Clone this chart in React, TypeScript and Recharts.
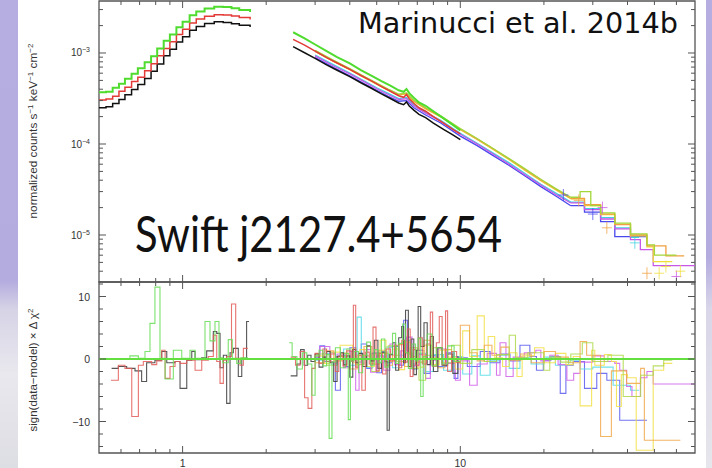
import React from 'react';
import { ComposedChart, Line, Scatter, XAxis, YAxis, ReferenceLine, ReferenceArea } from 'recharts';

// ---------------- axis ticks ----------------
const X_TICKS = [0.6, 0.7, 0.8, 0.9, 1, 2, 3, 4, 5, 6, 7, 8, 9, 10, 20, 30, 40, 50, 60];
const X_LABELS = [1, 10];
const SPEC_Y_TICKS = [4e-6, 5e-6, 6e-6, 7e-6, 8e-6, 9e-6, 1e-5, 2e-5, 3e-5, 4e-5, 5e-5, 6e-5, 7e-5, 8e-5, 9e-5,
  1e-4, 2e-4, 3e-4, 4e-4, 5e-4, 6e-4, 7e-4, 8e-4, 9e-4, 1e-3, 2e-3, 3e-3];
const SPEC_Y_LABELS = [1e-5, 1e-4, 1e-3];
const RES_Y_TICKS = [-14, -12, -10, -8, -6, -4, -2, 0, 2, 4, 6, 8, 10, 12];
const RES_Y_LABELS = [-10, 0, 10];
const X_DOMAIN = [0.5, 70];
const SPEC_DOMAIN = [3.045e-6, 3.727e-3];
const RES_DOMAIN = [-15.04, 12.32];

// ---------------- spectrum: soft band (keV, counts) ----------------
const LO_E = [0.50, 0.53, 0.56, 0.59, 0.62, 0.655, 0.69, 0.73, 0.77, 0.81, 0.855, 0.90, 0.95, 1.00, 1.06, 1.12, 1.20, 1.30, 1.40, 1.50, 1.60, 1.75];
const LO_BLACK = [2.51e-4, 2.57e-4, 2.79e-4, 3.09e-4, 3.47e-4, 3.98e-4, 4.52e-4, 5.25e-4, 6.31e-4, 7.59e-4, 9.33e-4, 1.10e-3, 1.32e-3, 1.51e-3, 1.78e-3, 1.95e-3, 2.11e-3, 2.20e-3, 2.17e-3, 2.10e-3, 2.02e-3, 1.93e-3];
const LO_RED = [3.05e-4, 3.12e-4, 3.35e-4, 3.8e-4, 4.2e-4, 4.85e-4, 5.4e-4, 6.4e-4, 7.6e-4, 9.3e-4, 1.12e-3, 1.33e-3, 1.6e-3, 1.82e-3, 2.13e-3, 2.36e-3, 2.53e-3, 2.64e-3, 2.62e-3, 2.55e-3, 2.45e-3, 2.33e-3];
const LO_GREEN = [3.7e-4, 3.75e-4, 4.15e-4, 4.6e-4, 5.2e-4, 5.9e-4, 6.8e-4, 7.9e-4, 9.2e-4, 1.12e-3, 1.36e-3, 1.6e-3, 1.92e-3, 2.2e-3, 2.6e-3, 2.85e-3, 3.08e-3, 3.22e-3, 3.2e-3, 3.1e-3, 2.97e-3, 2.82e-3];

// ---------------- spectrum: 2.5-10 keV ----------------
const HI_E = [2.5, 2.75, 3.0, 3.3, 3.6, 4.0, 4.4, 4.8, 5.2, 5.6, 6.0, 6.25, 6.4, 6.55, 6.8, 7.1, 7.5, 8.0, 8.7, 9.4, 10.0];
const HI_BLACK = [1.175e-3, 1.007e-3, 8.71e-4, 7.41e-4, 6.46e-4, 5.50e-4, 4.68e-4, 4.07e-4, 3.55e-4, 3.16e-4, 2.82e-4, 2.70e-4, 2.90e-4, 2.62e-4, 2.36e-4, 2.12e-4, 1.95e-4, 1.70e-4, 1.45e-4, 1.26e-4, 1.12e-4];
const HI_RED = [1.41e-3, 1.22e-3, 1.05e-3, 8.91e-4, 7.76e-4, 6.61e-4, 5.62e-4, 4.90e-4, 4.27e-4, 3.80e-4, 3.39e-4, 3.26e-4, 3.50e-4, 3.15e-4, 2.80e-4, 2.50e-4, 2.29e-4, 2.00e-4, 1.70e-4, 1.45e-4, 1.29e-4];
const HI_GREEN = [1.69e-3, 1.45e-3, 1.24e-3, 1.05e-3, 9.02e-4, 7.67e-4, 6.46e-4, 5.62e-4, 4.90e-4, 4.37e-4, 3.89e-4, 3.75e-4, 4.02e-4, 3.62e-4, 3.22e-4, 2.86e-4, 2.63e-4, 2.29e-4, 1.91e-4, 1.62e-4, 1.41e-4];

// ---------------- spectrum: hard band instruments ----------------
const BLUE_E = [3.0, 3.5, 4.0, 4.5, 5.0, 5.5, 6.0, 6.4, 6.8, 7.5, 8.5, 10, 11.5, 13, 15, 17, 19.5, 22, 25, 28, 32, 36, 47];
const BLUE_V = [8.9e-4, 6.9e-4, 5.6e-4, 4.6e-4, 3.9e-4, 3.35e-4, 2.95e-4, 3.0e-4, 2.5e-4, 2.08e-4, 1.70e-4, 1.22e-4, 9.6e-5, 7.6e-5, 5.8e-5, 4.5e-5, 3.4e-5, 2.7e-5, 2.1e-5, 1.78e-5, 1.4e-5, 9.6e-6, 9.6e-6];
const CYAN_E = [3.0, 3.5, 4.0, 4.5, 5.0, 5.5, 6.0, 6.4, 6.8, 7.5, 8.5, 10, 11.5, 13, 15, 17, 19.5, 22, 25, 28, 32, 36, 41, 44];
const CYAN_V = [9.5e-4, 7.4e-4, 6.0e-4, 4.95e-4, 4.15e-4, 3.6e-4, 3.15e-4, 3.25e-4, 2.7e-4, 2.22e-4, 1.82e-4, 1.31e-4, 1.02e-4, 8.1e-5, 6.2e-5, 4.8e-5, 3.6e-5, 2.9e-5, 2.3e-5, 1.95e-5, 1.55e-5, 1.2e-5, 9.4e-6, 9.4e-6];
const MAG_E = [3.0, 3.5, 4.0, 4.5, 5.0, 5.5, 6.0, 6.4, 6.8, 7.5, 8.5, 10, 11.5, 13, 15, 17, 19.5, 22, 25, 28, 32, 36, 41, 44.5, 49.5, 70];
const MAG_V = [9.3e-4, 7.2e-4, 5.9e-4, 4.85e-4, 4.05e-4, 3.5e-4, 3.08e-4, 3.15e-4, 2.62e-4, 2.18e-4, 1.78e-4, 1.28e-4, 1.0e-4, 7.9e-5, 6.0e-5, 4.65e-5, 3.55e-5, 2.8e-5, 2.25e-5, 1.9e-5, 1.5e-5, 1.17e-5, 8.9e-6, 6.9e-6, 4.6e-6, 4.6e-6];
const YEL_E = [3.0, 3.5, 4.0, 4.5, 5.0, 5.5, 6.0, 6.4, 6.8, 7.5, 8.5, 10, 11.5, 13, 15, 17, 19.5, 22, 25, 28, 32, 36, 41, 47, 49.5, 58];
const YEL_V = [1.04e-3, 8.1e-4, 6.55e-4, 5.4e-4, 4.55e-4, 3.9e-4, 3.45e-4, 3.55e-4, 2.93e-4, 2.43e-4, 1.99e-4, 1.44e-4, 1.12e-4, 8.9e-5, 6.7e-5, 5.2e-5, 3.95e-5, 3.15e-5, 2.5e-5, 2.1e-5, 1.68e-5, 1.31e-5, 9.8e-6, 7.4e-6, 5.1e-6, 5.1e-6];
const ORA_E = [3.0, 3.5, 4.0, 4.5, 5.0, 5.5, 6.0, 6.4, 6.8, 7.5, 8.5, 10, 11.5, 13, 15, 17, 19.5, 22, 25, 28, 32, 36, 41, 47, 55, 64];
const ORA_V = [1.05e-3, 8.15e-4, 6.6e-4, 5.45e-4, 4.6e-4, 3.95e-4, 3.48e-4, 3.6e-4, 2.96e-4, 2.46e-4, 2.0e-4, 1.45e-4, 1.13e-4, 9.0e-5, 6.8e-5, 5.3e-5, 4.0e-5, 3.2e-5, 2.52e-5, 2.15e-5, 1.7e-5, 1.3e-5, 1.0e-5, 7.6e-6, 5.9e-6, 5.9e-6];
const LIME_E = [3.0, 3.5, 4.0, 4.5, 5.0, 5.5, 6.0, 6.4, 6.8, 7.5, 8.5, 10, 11.5, 13, 15, 17, 19.5, 22, 25, 27, 29.5, 32, 36, 41, 47, 50, 60];
const LIME_V = [1.07e-3, 8.3e-4, 6.75e-4, 5.55e-4, 4.68e-4, 4.02e-4, 3.54e-4, 3.65e-4, 3.02e-4, 2.5e-4, 2.04e-4, 1.48e-4, 1.15e-4, 9.1e-5, 6.9e-5, 5.4e-5, 4.1e-5, 3.25e-5, 2.6e-5, 3.0e-5, 2.1e-5, 1.75e-5, 1.35e-5, 1.03e-5, 7.8e-6, 6.0e-6, 6.0e-6];

// ---------------- spectrum: a few data crosses at high energy ----------------
const PT_ORA_E = [26.7, 33.7, 47];
const PT_ORA_V = [2.4e-5, 1.2e-5, 3.8e-6];
const PT_YEL_E = [52, 55, 62];
const PT_YEL_V = [3.8e-6, 4.5e-6, 4.0e-6];
const PT_MAG_E = [32.5, 60];
const PT_MAG_V = [2.0e-5, 3.5e-6];
const PT_BLUE_E = [23.5, 30];
const PT_BLUE_V = [2.75e-5, 1.7e-5];
const PT_CYAN_E = [42.5];
const PT_CYAN_V = [8.2e-6];

// ---------------- residuals: soft band ----------------
const R_LO_BLACK_E = [0.555, 0.587, 0.629, 0.674, 0.712, 0.742, 0.795, 0.841, 0.877, 0.939, 0.979, 1.035, 1.079, 1.109, 1.172, 1.221, 1.29, 1.327, 1.364, 1.402, 1.441, 1.482, 1.523, 1.587, 1.633, 1.70, 1.735];
const R_LO_BLACK = [-1.5, -1.2, -1.5, -1.9, -3.6, -0.6, -0.2, 1.2, -0.6, -0.4, -4.7, -0.2, 1.2, -0.1, 0.2, 1.3, 4.4, 4.1, -1.4, 0.6, -7.1, 1.0, 1.7, -2.8, 0.1, 6.0, 6.0];
const R_LO_RED_E = [0.552, 0.587, 0.620, 0.656, 0.693, 0.722, 0.774, 0.807, 0.841, 0.865, 0.901, 0.939, 0.979, 1.035, 1.109, 1.172, 1.238, 1.29, 1.327, 1.364, 1.402, 1.441, 1.50, 1.553, 1.61, 1.655, 1.716];
const R_LO_RED = [-3.4, -1.0, -1.5, -9.2, -1.0, -0.4, -0.9, -0.3, 1.4, -3.1, -1.2, -0.4, -0.7, -0.2, -1.8, -0.2, 0.4, 3.8, -0.4, -3.9, -0.2, 0.4, 8.8, 0.1, -1.0, 1.7, 1.7];
const R_LO_GREEN_E = [0.5, 0.646, 0.693, 0.732, 0.763, 0.795, 0.829, 0.865, 0.926, 0.993, 1.063, 1.109, 1.204, 1.255, 1.308, 1.352, 1.395, 1.46, 1.51, 1.566, 1.62, 1.72];
const R_LO_GREEN = [0.0, 0.5, 0.1, 1.2, 5.7, 11.5, 0.1, -3.2, 1.4, 0.1, 1.4, 0.1, 6.0, 2.9, 6.0, 0.2, -0.6, 3.1, 0.1, -0.7, 0.2, 0.2];

// ---------------- residuals: hard band ----------------
const R_BLACK_E = [2.45, 2.58, 2.66, 2.74, 2.82, 2.9, 3.0, 3.1, 3.2, 3.3, 3.4, 3.5, 3.6, 3.7, 3.8, 3.9, 4.0, 4.1, 4.2, 4.3, 4.45, 4.6, 4.75, 4.9, 5.05, 5.2, 5.35, 5.45, 5.55, 5.7, 5.85, 6.0, 6.15, 6.25, 6.35, 6.5, 6.65, 6.8, 6.95, 7.05, 7.2, 7.4, 7.6, 7.8, 8.0, 8.3, 8.6, 9.0, 9.4, 9.8];
const R_BLACK = [-2.7, -0.8, 1.5, -1.0, 0.6, -0.4, 0.8, -1.3, 0.3, 1.2, -0.5, -3.6, 0.4, 1.0, -0.9, 0.5, -2.9, 1.5, -0.6, 0.9, -1.2, 2.1, -0.3, 3.0, -1.5, 1.1, -0.4, -11.4, 0.7, 2.6, -1.8, 3.4, 5.2, -0.6, 7.8, -1.2, 3.2, -2.5, 1.4, 8.4, 2.0, 5.8, -0.9, 3.6, -2.0, 1.8, -1.0, 0.8, -2.3, 0.5];
const R_RED_E = [2.45, 2.55, 2.65, 2.75, 2.83, 2.92, 3.0, 3.1, 3.2, 3.3, 3.42, 3.55, 3.65, 3.78, 3.9, 4.05, 4.12, 4.2, 4.3, 4.42, 4.55, 4.7, 4.85, 4.97, 5.1, 5.25, 5.4, 5.6, 5.8, 6.0, 6.15, 6.3, 6.45, 6.6, 6.75, 6.9, 7.1, 7.3, 7.55, 7.8, 7.95, 8.2, 8.4, 8.6, 8.85, 9.0, 9.3, 9.7, 10.0];
const R_RED = [0.3, -1.0, 1.2, -6.2, -7.9, -1.5, 0.9, -0.7, 1.6, -0.4, 0.8, -2.0, 0.5, -1.1, 1.3, -0.4, 8.6, -1.3, 0.6, -5.0, 1.1, -0.8, 5.1, -1.9, 0.9, -2.4, 1.6, -0.3, 2.2, -1.4, 3.0, -0.5, 4.8, -2.8, 1.5, -1.0, 3.4, -0.8, 2.4, 7.5, -1.2, 2.6, 6.8, -0.9, 7.7, -2.0, 1.2, -0.5, -0.5];
const R_GREEN_E = [2.42, 2.48, 2.58, 2.7, 2.8, 2.92, 3.0, 3.1, 3.2, 3.3, 3.37, 3.45, 3.55, 3.7, 3.85, 3.95, 4.02, 4.15, 4.3, 4.45, 4.6, 4.75, 4.9, 5.05, 5.2, 5.35, 5.5, 5.7, 5.85, 6.0, 6.2, 6.35, 6.5, 6.7, 6.9, 7.05, 7.2, 7.35, 7.6, 7.9, 8.2, 8.6, 9.0, 9.5, 10.0];
const R_GREEN = [2.6, 0.4, -1.6, 1.0, -0.8, -5.8, 0.5, 1.4, -1.1, 0.7, -12.7, -0.5, 1.8, -1.4, 0.9, -9.7, -0.3, 1.2, -2.2, 0.6, 2.7, -1.0, 1.5, -0.6, 3.2, -1.3, 0.8, 4.1, -0.7, 2.5, 5.6, 1.0, -1.5, 2.4, -0.3, 3.3, -6.0, 0.4, 4.0, -1.1, 1.8, -0.8, 2.1, -0.4, -0.4];
const R_BLUE_E = [3.0, 3.12, 3.25, 3.4, 3.55, 3.7, 3.85, 4.0, 4.2, 4.4, 4.6, 4.8, 5.0, 5.2, 5.45, 5.7, 6.0, 6.25, 6.45, 6.7, 7.0, 7.4, 7.8, 8.3, 8.9, 9.5, 9.8, 10.6, 11.8, 12.8, 13.9, 15.1, 16.4, 17.8, 18.8, 19.9, 21.2, 22.9, 24.0, 25.5, 28, 31, 33.7, 37.5, 47];
const R_BLUE = [0.3, 2.1, -0.4, 1.0, -5.0, 0.6, -1.2, 1.8, -0.5, 2.4, -1.5, 0.9, -2.2, 1.1, -0.6, 2.0, -1.0, 6.2, 0.8, -1.6, 1.4, -2.3, 0.5, -1.2, 1.0, -3.1, 0.2, -1.2, 1.2, -0.6, 0.8, -0.3, 2.2, 0.4, -1.8, -0.2, 0.4, -5.5, -1.0, -0.4, -4.7, -2.3, -3.4, -9.8, -9.8];
const R_CYAN_E = [3.0, 3.2, 3.4, 3.6, 3.8, 4.0, 4.25, 4.4, 4.6, 4.85, 5.1, 5.4, 5.7, 6.0, 6.3, 6.6, 7.0, 7.5, 8.0, 8.7, 9.4, 10.2, 11.0, 11.8, 12.8, 13.9, 15, 16.4, 18, 20, 22, 24.5, 27, 30, 35.5, 41, 44];
const R_CYAN = [-0.2, 0.9, -0.8, 0.5, 1.6, -1.0, 6.7, 0.3, -1.3, 1.0, -0.6, 1.9, -1.4, 0.6, 3.0, -0.8, 0.9, -2.0, 0.7, -1.8, 0.4, -2.4, 0.5, -2.6, -0.3, 0.6, -1.5, 0.2, -0.8, 0.3, -1.0, -0.2, -1.6, -1.3, -4.2, -5.0, -5.0];
const R_MAG_E = [3.0, 3.12, 3.39, 3.6, 3.8, 4.0, 4.2, 4.32, 4.5, 4.75, 5.0, 5.3, 5.58, 5.8, 6.1, 6.4, 6.7, 7.1, 7.5, 7.8, 8.3, 8.9, 9.6, 10.0, 10.8, 11.5, 12.5, 13.5, 13.9, 14.6, 15.5, 17, 18.7, 19.5, 21, 22.5, 24.2, 25.6, 27, 30, 33, 36, 37.5, 39.7, 41.5, 44.5, 47, 49.5, 70];
const R_MAG = [0.4, 2.0, -0.6, 0.8, -1.4, 1.2, -5.0, -0.8, 1.5, -2.1, 0.5, -1.8, 2.4, -0.9, 1.3, 3.5, -1.1, 0.7, -3.1, -0.2, 1.6, -0.7, -3.4, -0.3, -4.2, -0.8, 0.9, -2.6, 2.6, -2.8, 0.3, 1.0, 1.4, -0.3, 0.6, -0.9, -3.4, -2.3, -0.5, 0.5, -0.4, -0.7, -1.8, -4.4, -6.0, -3.0, -2.0, -4.0, -4.0];
const R_YEL_E = [3.0, 3.2, 3.4, 3.69, 4.1, 4.35, 4.6, 4.9, 5.14, 5.4, 5.7, 6.0, 6.3, 6.6, 7.0, 7.4, 7.9, 8.4, 9.0, 9.6, 10.2, 10.8, 11.5, 12.2, 12.6, 13.3, 14.2, 15.0, 16.0, 16.7, 18.5, 20, 22, 24, 25.5, 27, 29.7, 30.5, 33, 35, 36.5, 38, 40, 43, 49.5, 54, 58];
const R_YEL = [0.5, -0.7, 1.1, 2.2, -0.6, 1.5, -1.2, 0.8, 3.0, -0.4, 1.6, -1.7, 2.7, 0.4, -1.3, 2.2, -0.9, 1.4, 0.3, -1.6, 4.5, 0.4, 6.9, -0.4, 3.6, 0.2, -1.2, 1.0, -2.8, 0.5, 1.8, -0.6, 0.9, -0.9, 0.4, -7.5, 1.4, -1.0, 0.7, -0.4, -7.6, -2.5, -3.0, -14.6, -1.8, -0.7, -0.7];
const R_ORA_E = [3.0, 3.25, 3.5, 3.75, 4.0, 4.25, 4.5, 4.8, 5.1, 5.4, 5.7, 6.0, 6.3, 6.6, 7.0, 7.4, 7.8, 8.3, 8.8, 9.3, 10.0, 10.8, 11.5, 12.2, 13, 14, 15, 16.5, 18, 20, 22, 24.5, 27, 28.5, 32, 35, 39.7, 44.6, 46, 62];
const R_ORA = [-0.6, 1.3, -0.3, 0.9, -1.6, 0.6, 2.0, -0.8, 1.4, -1.0, 0.6, 2.3, -1.2, 1.8, -0.5, 3.0, 0.2, -1.4, 1.5, -0.6, 5.4, 1.0, -0.3, 2.2, 0.6, 1.9, -0.2, 0.8, -0.6, 1.2, 0.3, -0.6, 2.8, 0.6, -12.4, -1.9, -3.9, -1.5, -13.0, -13.0];
const R_LIME_E = [3.0, 3.3, 3.6, 3.9, 4.2, 4.5, 4.8, 5.1, 5.5, 5.9, 6.3, 6.7, 7.1, 7.5, 8.0, 8.6, 9.3, 10.0, 11, 12.2, 13.5, 15, 15.8, 17.5, 20, 21, 23, 25, 27.5, 30, 34, 38.6, 44.6, 49.5, 54, 58];
const R_LIME = [0.8, -1.0, 0.4, 1.6, -0.9, 0.5, -2.0, 0.9, 2.1, -0.4, 1.0, -1.5, -3.4, 0.6, 1.8, -0.6, 2.2, -0.7, 1.5, -0.4, 0.7, 3.8, 0.2, 1.0, -1.8, 0.3, -0.5, 0.8, 2.6, -0.4, 0.6, -6.0, -2.6, -1.1, -0.2, -0.2];

// ---------------- helpers ----------------
const zip = (E: number[], V: number[]) => E.map((e, i) => ({ e, v: V[i] }));
const below = (E: number[], V: number[], lim: number) => zip(E, V).filter((d) => d.e <= lim);
const above = (E: number[], V: number[], lim: number) => zip(E, V).filter((d) => d.e >= lim);

const FONT = 'Liberation Sans, Arial, Helvetica, sans-serif';
const FRAME = '#555';

function Tick(props: any) {
  const { x, y, payload, tside, majors, labels, kind } = props;
  const v = payload.value;
  const major = majors.includes(v);
  const len = major ? 7 : 4;
  const X = Number(x);
  const Y = Number(y);
  let d = '';
  if (tside === 'bottom') d = `M${X},${Y}V${Y - len}`;
  else if (tside === 'top') d = `M${X},${Y}V${Y + len}`;
  else if (tside === 'left') d = `M${X},${Y}H${X + len}`;
  else d = `M${X},${Y}H${X - len}`;
  let label: any = null;
  if (labels && labels.includes(v)) {
    if (kind === 'pow') {
      const ex = Math.round(Math.log10(v));
      label = (
        <text x={X - 9} y={Y + 3.5} textAnchor="end" fontSize={10} fill="#333" fontFamily={FONT}>
          <tspan>10</tspan>
          <tspan dy={-4} fontSize={7}>{'\u2212' + Math.abs(ex)}</tspan>
        </text>
      );
    } else if (kind === 'res') {
      label = (
        <text x={X - 9} y={Y + 4} textAnchor="end" fontSize={10.5} fill="#333" fontFamily={FONT}>
          {v < 0 ? '\u2212' + Math.abs(v) : String(v)}
        </text>
      );
    } else {
      label = (
        <text x={X} y={Y + 14} textAnchor="middle" fontSize={10.5} fill="#333" fontFamily={FONT}>
          {String(v)}
        </text>
      );
    }
  }
  return (
    <g>
      <path d={d} stroke={FRAME} strokeWidth={1} fill="none" />
      {label}
    </g>
  );
}

function Cross(props: any) {
  const { cx, cy, fill } = props;
  if (cx == null || cy == null) return null;
  return (
    <path d={`M${cx - 5},${cy}H${cx + 5}M${cx},${cy - 6}V${cy + 6}`} stroke={fill} strokeWidth={1} strokeOpacity={0.75} fill="none" />
  );
}

const series = (key: string, data: any[], color: string, width = 1.2, type: any = 'stepAfter', opacity = 1) => (
  <Line
    key={key}
    xAxisId="b"
    yAxisId="l"
    data={data}
    dataKey="v"
    type={type}
    stroke={color}
    strokeWidth={width}
    strokeOpacity={opacity}
    dot={false}
    activeDot={false}
    isAnimationActive={false}
  />
);

const points = (key: string, data: any[], color: string) => (
  <Scatter key={key} xAxisId="b" yAxisId="l" data={data} dataKey="v" fill={color} shape={<Cross />} isAnimationActive={false} />
);

const HARD = [
  { k: 'blue', E: BLUE_E, V: BLUE_V, c: '#4848ee' },
  { k: 'cyan', E: CYAN_E, V: CYAN_V, c: '#3fd3e0' },
  { k: 'mag', E: MAG_E, V: MAG_V, c: '#c856e6' },
  { k: 'yel', E: YEL_E, V: YEL_V, c: '#f0dd3a' },
  { k: 'ora', E: ORA_E, V: ORA_V, c: '#f0a040' },
  { k: 'lime', E: LIME_E, V: LIME_V, c: '#a3d63a' },
];

function axes(kind: 'spec' | 'res', showBottomLabels: boolean) {
  const yTicks = kind === 'spec' ? SPEC_Y_TICKS : RES_Y_TICKS;
  const yLabels = kind === 'spec' ? SPEC_Y_LABELS : RES_Y_LABELS;
  const yDomain = kind === 'spec' ? SPEC_DOMAIN : RES_DOMAIN;
  const yScale = kind === 'spec' ? 'log' : 'linear';
  return [
    <XAxis key="xb" xAxisId="b" dataKey="e" type="number" scale="log" domain={X_DOMAIN} allowDataOverflow
      ticks={X_TICKS} interval={0} tickSize={0} tickMargin={0} height={showBottomLabels ? 15 : 1}
      axisLine={false} tickLine={false}
      tick={<Tick tside="bottom" majors={X_LABELS} labels={showBottomLabels ? X_LABELS : null} kind="x" />} />,
    <XAxis key="xt" xAxisId="t" orientation="top" dataKey="e" type="number" scale="log" domain={X_DOMAIN} allowDataOverflow
      ticks={X_TICKS} interval={0} tickSize={0} tickMargin={0} height={1}
      axisLine={false} tickLine={false}
      tick={<Tick tside="top" majors={X_LABELS} labels={null} />} />,
    <YAxis key="yl" yAxisId="l" type="number" scale={yScale} domain={yDomain} allowDataOverflow
      ticks={yTicks} interval={0} tickSize={0} tickMargin={0} width={99}
      axisLine={false} tickLine={false}
      tick={<Tick tside="left" majors={yLabels} labels={yLabels} kind={kind === 'spec' ? 'pow' : 'res'} />} />,
    <YAxis key="yr" yAxisId="r" orientation="right" type="number" scale={yScale} domain={yDomain} allowDataOverflow
      ticks={yTicks} interval={0} tickSize={0} tickMargin={0} width={1}
      axisLine={false} tickLine={false}
      tick={<Tick tside="right" majors={yLabels} labels={null} />} />,
    <ReferenceArea key="frame" xAxisId="b" yAxisId="l" x1={X_DOMAIN[0]} x2={X_DOMAIN[1]} y1={yDomain[0]} y2={yDomain[1]}
      fill="none" fillOpacity={0} stroke={FRAME} strokeWidth={1.3} strokeOpacity={1} ifOverflow="visible" />,
  ];
}

export default function App() {
  return (
    <div style={{ position: 'absolute', left: 0, top: 0, width: 712, height: 468, overflow: 'hidden', background: '#fff' }}>
      <div style={{ position: 'absolute', left: 0, top: 0, width: 18, height: 468,
        background: 'linear-gradient(to bottom, #b6aee0 0%, #b4acdf 60%, #d6d3e6 66%, #e9e8ee 80%, #dddde4 100%)' }} />
      <div style={{ position: 'absolute', left: 706, top: 0, width: 6, height: 468,
        background: 'linear-gradient(to bottom, #b6aee0 0%, #b4acdf 55%, #d8d6e8 66%, #e6e6ec 100%)' }} />

      {/* spectrum panel */}
      <div style={{ position: 'absolute', left: 0, top: 0 }}>
        <ComposedChart width={712} height={284} margin={{ top: 0, right: 16, bottom: 1, left: 0 }}>
          {axes('spec', false)}
          {HARD.map((s) => series(s.k + 'a', below(s.E, s.V, 25), s.c, 1.3, 'linear'))}
          {HARD.map((s) => series(s.k + 'b', above(s.E, s.V, 25), s.c, 1.3, 'stepAfter'))}
          {points('pb', zip(PT_BLUE_E, PT_BLUE_V), '#4848ee')}
          {points('pc', zip(PT_CYAN_E, PT_CYAN_V), '#3fd3e0')}
          {points('pm', zip(PT_MAG_E, PT_MAG_V), '#c856e6')}
          {points('py', zip(PT_YEL_E, PT_YEL_V), '#f0dd3a')}
          {points('po', zip(PT_ORA_E, PT_ORA_V), '#f0a040')}
          {series('lb', zip(LO_E, LO_BLACK), '#111', 1.5)}
          {series('lr', zip(LO_E, LO_RED), '#e23a36', 1.5)}
          {series('lg', zip(LO_E, LO_GREEN), '#4fdc2e', 2)}
          {series('hb', zip(HI_E, HI_BLACK), '#111', 1.5, 'linear')}
          {series('hr', zip(HI_E, HI_RED), '#e23a36', 1.5, 'linear')}
          {series('hg', zip(HI_E, HI_GREEN), '#4fdc2e', 2, 'linear')}
        </ComposedChart>
      </div>

      {/* residual panel */}
      <div style={{ position: 'absolute', left: 0, top: 281 }}>
        <ComposedChart width={712} height={187} margin={{ top: 0, right: 16, bottom: 0, left: 0 }}>
          {axes('res', true)}
          {series('rb', zip(R_BLUE_E, R_BLUE), '#5a5af0', 1.1, 'stepAfter', 0.85)}
          {series('rc', zip(R_CYAN_E, R_CYAN), '#55dbe6', 1.1, 'stepAfter', 0.85)}
          {series('rm', zip(R_MAG_E, R_MAG), '#d060ea', 1.1, 'stepAfter', 0.85)}
          {series('ry', zip(R_YEL_E, R_YEL), '#f2e048', 1.1, 'stepAfter', 0.85)}
          {series('ro', zip(R_ORA_E, R_ORA), '#f0a84a', 1.1, 'stepAfter', 0.85)}
          {series('rl', zip(R_LIME_E, R_LIME), '#aed84a', 1.1, 'stepAfter', 0.85)}
          {series('rk', zip(R_BLACK_E, R_BLACK), '#444', 1.1, 'stepAfter', 0.9)}
          {series('rr', zip(R_RED_E, R_RED), '#e25c58', 1.1, 'stepAfter', 0.85)}
          {series('rg', zip(R_GREEN_E, R_GREEN), '#66dd55', 1.1, 'stepAfter', 0.85)}
          {series('rlk', zip(R_LO_BLACK_E, R_LO_BLACK), '#444', 1.1, 'stepAfter', 0.9)}
          {series('rlr', zip(R_LO_RED_E, R_LO_RED), '#e25c58', 1.1, 'stepAfter', 0.85)}
          {series('rlg', zip(R_LO_GREEN_E, R_LO_GREEN), '#66dd55', 1.1, 'stepAfter', 0.85)}
          <ReferenceLine xAxisId="b" yAxisId="l" y={0} stroke="#63df3f" strokeWidth={2} />
        </ComposedChart>
      </div>

      {/* annotations */}
      <svg width={712} height={468} style={{ position: 'absolute', left: 0, top: 0, pointerEvents: 'none' }}>
        <text x={358} y={33} fontSize={28} fontFamily="'Comic Sans MS', 'DejaVu Sans', sans-serif" fill="#111"
          textLength={320} lengthAdjust="spacingAndGlyphs">Marinucci et al. 2014b</text>
        <text x={135} y={252} fontSize={50} fontFamily="Lato, 'Open Sans', sans-serif" fill="#111"
          textLength={367} lengthAdjust="spacingAndGlyphs">Swift j2127.4+5654</text>
        <text transform="translate(37,131) rotate(-90)" textAnchor="middle" fontSize={11.8} fill="#333" fontFamily={FONT}>
          <tspan>normalized counts s</tspan>
          <tspan dy={-4} fontSize={8}>{'\u22121'}</tspan>
          <tspan dy={4}> keV</tspan>
          <tspan dy={-4} fontSize={8}>{'\u22121'}</tspan>
          <tspan dy={4}> cm</tspan>
          <tspan dy={-4} fontSize={8}>{'\u22122'}</tspan>
        </text>
        <text transform="translate(37,370) rotate(-90)" textAnchor="middle" fontSize={11.5} fill="#333" fontFamily={FONT}>
          <tspan>{'sign(data\u2212model) \u00d7 \u0394 \u03c7'}</tspan>
          <tspan dy={-4} fontSize={8}>2</tspan>
        </text>
      </svg>
    </div>
  );
}
